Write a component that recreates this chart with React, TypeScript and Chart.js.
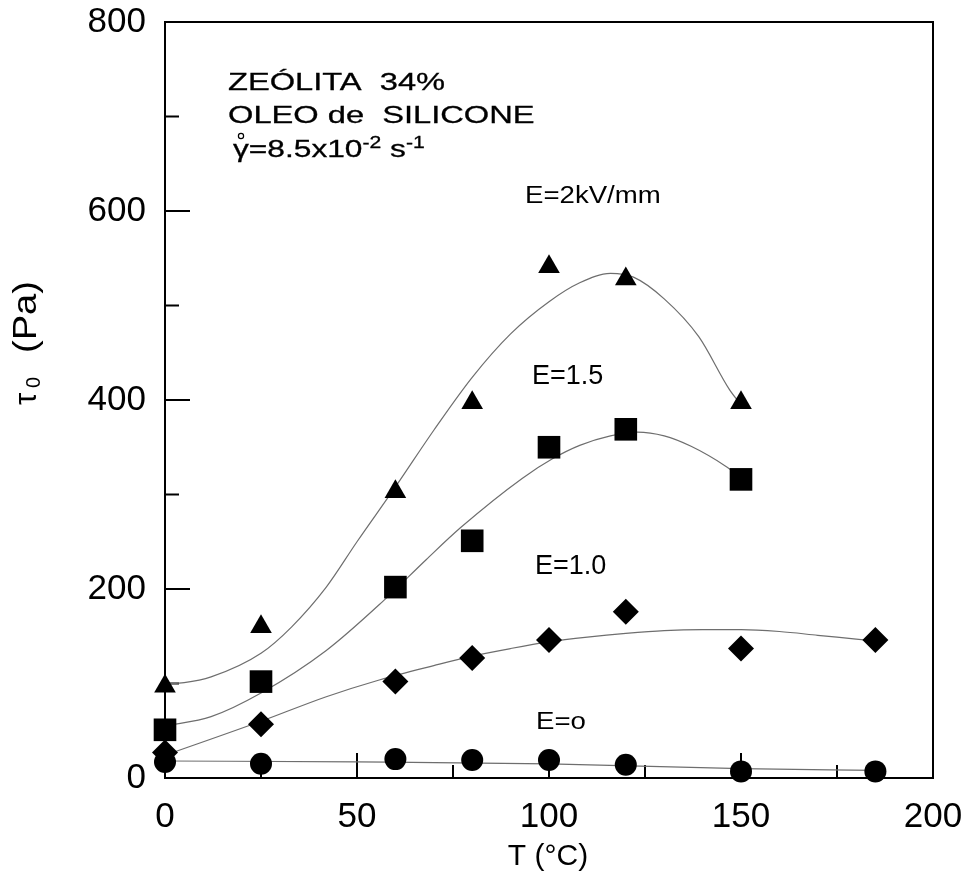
import React, { useEffect, useRef } from 'react';
import { Chart, registerables } from 'chart.js';

Chart.register(...registerables);

const FONT = "'Liberation Sans', Arial, Helvetica, sans-serif";

// Measured points: T (°C) and tau0 (Pa)
const tempsE2 = [0, 25, 60, 80, 100, 120, 150];
const tauE2 = [97, 160, 303, 397, 541, 528, 397];
const tempsE15 = [0, 25, 60, 80, 100, 120, 150];
const tauE15 = [51, 102, 202, 251, 350, 369, 316];
const tempsE10 = [0, 25, 60, 80, 100, 120, 150, 185];
const tauE10 = [27, 57, 102, 127, 146, 176, 137, 146];
const tempsE0 = [0, 25, 60, 80, 100, 120, 150, 185];
const tauE0 = [17, 15, 20, 19, 19, 14, 7, 7];

// Fitted curves
const fitTempsE2 = [0, 5, 12, 25, 33, 42, 50, 60, 70, 80, 90, 100, 108, 116, 122, 130, 139, 147, 150];
const fitTauE2 = [100, 101, 107, 132, 160, 202, 250, 308, 368, 424, 470, 504, 524, 534, 530, 507, 467, 411, 395];
const fitTempsE15 = [0, 12, 25, 42, 57, 68, 77, 93, 101, 108, 116, 123, 130, 137, 146, 150];
const fitTauE15 = [55, 65, 90, 135, 188, 231, 265, 317, 338, 352, 362, 366, 362, 351, 330, 318];
const fitTempsE10 = [0, 25, 42, 56, 70, 80, 90, 100, 110, 120, 130, 140, 150, 160, 170, 180, 185];
const fitTauE10 = [24, 60, 86, 104, 119, 129, 137, 144, 149, 153, 156, 157, 157, 155, 151, 147, 145];
const fitTempsE0 = [0, 50, 100, 150, 185];
const fitTauE0 = [18, 17, 15, 10, 8];

// Axis ticks
const xMajorTicks = [0, 50, 100, 150, 200];
const xMinorTicks = [25, 75, 125, 175];
const yMajorTicks = [0, 200, 400, 600, 800];
const yMinorTicks = [100, 300, 500, 700];

// Labels
const headerLine1 = 'ZEÓLITA  34%';
const headerLine2 = 'OLEO de  SILICONE';
const labelE2 = 'E=2kV/mm';
const labelE15 = 'E=1.5';
const labelE10 = 'E=1.0';
const labelE0 = 'E=o';
const xTitle = 'T (°C)';

const toPts = (xs: number[], ys: number[]) => xs.map((x, i) => ({ x, y: ys[i] }));

type Seg = { text: string; size: number; dy?: number };

function drawSegs(ctx: CanvasRenderingContext2D, segs: Seg[], x: number, baseline: number, scaleX: number, bold = 0) {
  ctx.save();
  ctx.translate(x, baseline);
  ctx.scale(scaleX, 1);
  ctx.textBaseline = 'alphabetic';
  ctx.textAlign = 'left';
  ctx.fillStyle = '#000';
  ctx.strokeStyle = '#000';
  ctx.lineWidth = bold;
  let cx = 0;
  for (const s of segs) {
    ctx.font = `${s.size}px ${FONT}`;
    ctx.fillText(s.text, cx, s.dy || 0);
    if (bold > 0) ctx.strokeText(s.text, cx, s.dy || 0);
    cx += ctx.measureText(s.text).width;
  }
  ctx.restore();
}

const framePlugin = {
  id: 'framePlugin',
  beforeDatasetsDraw(chart: any) {
    const { ctx, chartArea } = chart;
    const xs = chart.scales.x;
    const ys = chart.scales.y;
    ctx.save();
    ctx.strokeStyle = '#000';
    ctx.lineWidth = 2;
    ctx.strokeRect(chartArea.left, chartArea.top, chartArea.right - chartArea.left, chartArea.bottom - chartArea.top);
    ctx.beginPath();
    for (const v of yMajorTicks) {
      const p = ys.getPixelForValue(v);
      ctx.moveTo(chartArea.left, p);
      ctx.lineTo(chartArea.left + 25, p);
    }
    for (const v of yMinorTicks) {
      const p = ys.getPixelForValue(v);
      ctx.moveTo(chartArea.left, p);
      ctx.lineTo(chartArea.left + 14, p);
    }
    for (const v of xMajorTicks) {
      const p = xs.getPixelForValue(v);
      ctx.moveTo(p, chartArea.bottom);
      ctx.lineTo(p, chartArea.bottom - 25);
    }
    for (const v of xMinorTicks) {
      const p = xs.getPixelForValue(v);
      ctx.moveTo(p, chartArea.bottom);
      ctx.lineTo(p, chartArea.bottom - 13);
    }
    ctx.stroke();
    ctx.restore();
  },
  afterDraw(chart: any) {
    const { ctx } = chart;
    // Header block
    drawSegs(ctx, [{ text: headerLine1, size: 24 }], 228, 90, 1.36, 0.3);
    drawSegs(ctx, [{ text: headerLine2, size: 24 }], 228, 123, 1.36, 0.3);
    drawSegs(
      ctx,
      [
        { text: 'γ', size: 24 },
        { text: '=8.5x10', size: 24 },
        { text: '-2', size: 16, dy: -9 },
        { text: ' s', size: 24 },
        { text: '-1', size: 16, dy: -9 },
      ],
      233,
      157,
      1.32,
      0.3
    );
    // ring over gamma
    ctx.save();
    ctx.strokeStyle = '#000';
    ctx.lineWidth = 1.2;
    ctx.beginPath();
    ctx.arc(241, 136, 2.6, 0, Math.PI * 2);
    ctx.stroke();
    ctx.restore();

    // Series labels
    drawSegs(ctx, [{ text: labelE2, size: 23 }], 525, 203, 1.2);
    drawSegs(ctx, [{ text: labelE15, size: 27 }], 532, 384, 1.0);
    drawSegs(ctx, [{ text: labelE10, size: 27 }], 535, 574, 1.0);
    drawSegs(ctx, [{ text: labelE0, size: 23 }], 536, 729, 1.2);

    // X title
    ctx.save();
    ctx.fillStyle = '#000';
    ctx.font = `30px ${FONT}`;
    ctx.textAlign = 'center';
    ctx.textBaseline = 'middle';
    ctx.fillText(xTitle, 548, 857);
    ctx.restore();

    // Y title rotated (reads bottom to top)
    ctx.save();
    ctx.fillStyle = '#000';
    ctx.translate(27, 405);
    ctx.rotate(-Math.PI / 2);
    ctx.textBaseline = 'middle';
    ctx.textAlign = 'left';
    ctx.font = `31px ${FONT}`;
    ctx.fillText('τ', 0, 0);
    ctx.font = `20px ${FONT}`;
    ctx.fillText('0', 17, 7);
    ctx.save();
    ctx.translate(52, 0);
    ctx.scale(1.12, 1);
    ctx.font = `34px ${FONT}`;
    ctx.fillText('(Pa)', 0, 0);
    ctx.restore();
    ctx.restore();
  },
};

export default function App() {
  const ref = useRef<HTMLCanvasElement | null>(null);
  useEffect(() => {
    document.body.style.margin = '0';
    if (!ref.current) return;
    const curve = (xs: number[], ys: number[]) => ({
      type: 'line' as const,
      data: toPts(xs, ys),
      borderColor: '#6e6e6e',
      borderWidth: 1.2,
      pointRadius: 0,
      showLine: true,
      fill: false,
      cubicInterpolationMode: 'monotone' as const,
      order: 2,
    });
    const marks = (xs: number[], ys: number[], style: string, r: number) => ({
      type: 'scatter' as const,
      data: toPts(xs, ys),
      pointStyle: style,
      pointRadius: r,
      pointBackgroundColor: '#000',
      pointBorderColor: '#000',
      pointBorderWidth: 0,
      showLine: false,
      clip: false,
      order: 0,
    });
    const noPad = (s: any) => {
      s.paddingTop = 0;
      s.paddingBottom = 0;
      s.paddingLeft = 0;
      s.paddingRight = 0;
    };
    const chart = new Chart(ref.current, {
      type: 'scatter',
      data: {
        datasets: [
          curve(fitTempsE2, fitTauE2),
          curve(fitTempsE15, fitTauE15),
          curve(fitTempsE10, fitTauE10),
          curve(fitTempsE0, fitTauE0),
          marks(tempsE2, tauE2, 'triangle', 12.5),
          marks(tempsE15, tauE15, 'rect', 16),
          marks(tempsE10, tauE10, 'rectRot', 13),
          marks(tempsE0, tauE0, 'circle', 11),
        ] as any,
      },
      options: {
        animation: false,
        responsive: true,
        maintainAspectRatio: false,
        layout: { padding: { top: 22, right: 34, left: 0, bottom: 0 } },
        plugins: { legend: { display: false }, tooltip: { enabled: false } },
        events: [],
        scales: {
          x: {
            type: 'linear',
            min: 0,
            max: 200,
            grid: { display: false, drawTicks: false },
            border: { display: false },
            ticks: { stepSize: 50, padding: 18, color: '#000', font: { size: 35, family: FONT } },
            afterFit: (s: any) => {
              s.height = 95;
              noPad(s);
            },
          },
          y: {
            type: 'linear',
            min: 0,
            max: 800,
            grid: { display: false, drawTicks: false },
            border: { display: false },
            ticks: { stepSize: 200, padding: 19, color: '#000', font: { size: 35, family: FONT } },
            afterFit: (s: any) => {
              s.width = 165;
              noPad(s);
            },
          },
        },
      } as any,
      plugins: [framePlugin],
    });
    return () => chart.destroy();
  }, []);
  return (
    <div style={{ position: 'relative', width: '967px', height: '873px' }}>
      <canvas ref={ref} />
    </div>
  );
}
